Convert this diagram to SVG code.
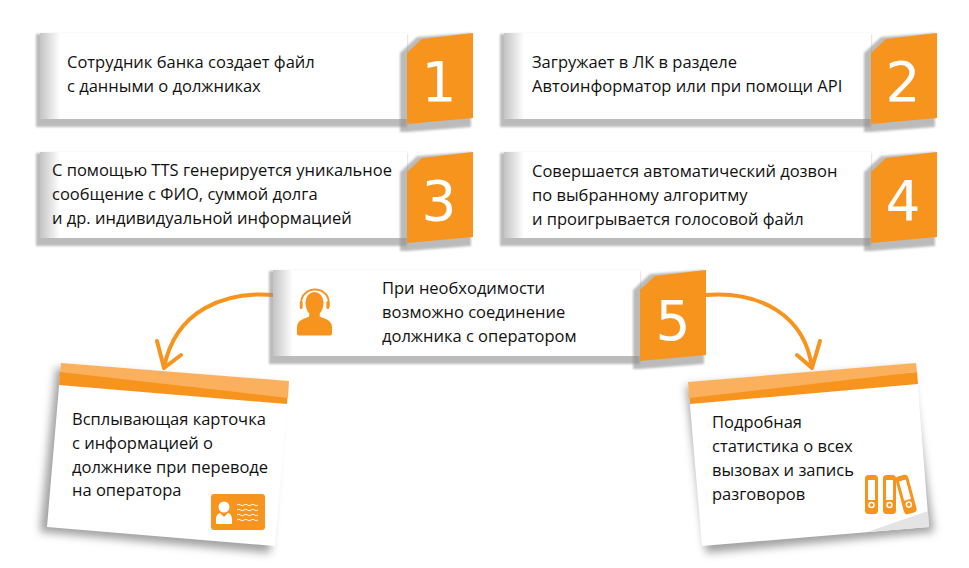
<svg xmlns="http://www.w3.org/2000/svg" width="969" height="568" viewBox="0 0 969 568">
<style>
.t{font-family:"Open Sans","Noto Sans",sans-serif;font-size:16.5px;fill:#111}
.n{font-family:"DejaVu Sans",sans-serif;font-size:55px;fill:#fff;text-anchor:middle}
.b{fill:#f7941d}
.l{fill:#fbb05e}
.sh{fill:#8f8f8f;opacity:.6;filter:url(#blur)}
.arrow{fill:none;stroke:#f7941d;stroke-width:4;stroke-linecap:round;stroke-linejoin:round}
.card{fill:url(#fade)}
.ic{fill:none;stroke:#fff;stroke-width:1}
.ring{fill:none;stroke:#fff;stroke-width:1.500}
</style>
<defs>
<filter id="blur" x="-20%" y="-20%" width="140%" height="140%"><feGaussianBlur stdDeviation="1"/></filter>
<filter id="blur2" x="-20%" y="-20%" width="140%" height="140%"><feGaussianBlur stdDeviation="4"/></filter>
<linearGradient id="fade" x1="0" x2="1" y1="0" y2="0"><stop offset="0" stop-color="#c4c4c4"/><stop offset="1" stop-color="#fff"/></linearGradient>
<g id="panel">
<path class="sh" d="M-3,1H368V94H-3Z"/>
<rect x="1" y="0" width="367" height="86" fill="#fff"/>
<rect class="card" x="1" y="0" width="20" height="86"/>
<path class="sh" d="M361,20L378,4L432,0V94L368,99H361Z"/>
<path class="b" d="M368,20L383,6L434,0V85L368,91Z"/>
</g>
</defs>
<rect width="969" height="568" fill="#fff"/>

<g id="connectors">
<path class="arrow" d="M274,295C225,291 175,310 164,368M157,341L164,368L181,355"/>
<path class="arrow" d="M706,295C760,291 805,315 812,368M797,355L812,368L820,341"/>
</g>

<g id="node-1"><use href="#panel" x="39" y="33"/>
<text class="t" x="67" y="68">Сотрудник банка создает файл</text>
<text class="t" x="67" y="92">с данными о должниках</text>
<text class="n" x="439" y="101">1</text></g>

<g id="node-2"><use href="#panel" x="503" y="33"/>
<text class="t" x="532" y="68">Загружает в ЛК в разделе</text>
<text class="t" x="532" y="92">Автоинформатор или при помощи API</text>
<text class="n" x="903" y="101">2</text></g>

<g id="node-3"><use href="#panel" x="39" y="152"/>
<text class="t" x="52" y="176">С помощью TTS генерируется уникальное</text>
<text class="t" x="52" y="200">сообщение с ФИО, суммой долга</text>
<text class="t" x="52" y="224">и др. индивидуальной информацией</text>
<text class="n" x="439" y="220">3</text></g>

<g id="node-4"><use href="#panel" x="503" y="152"/>
<text class="t" x="532" y="177">Совершается автоматический дозвон</text>
<text class="t" x="532" y="201">по выбранному алгоритму</text>
<text class="t" x="532" y="225">и проигрывается голосовой файл</text>
<text class="n" x="903" y="220">4</text></g>

<g id="node-5"><use href="#panel" x="272" y="270"/>
<text class="t" x="382" y="294">При необходимости</text>
<text class="t" x="382" y="318">возможно соединение</text>
<text class="t" x="382" y="342">должника с оператором</text>
<text class="n" x="673" y="340">5</text>
<g id="headset" transform="translate(314.500,0) scale(.95,1) translate(-314,-2)">
<path class="b" d="M314,294a9.500,10.500 0 0 1 9.500,10.500c0,5 -2,9 -4,11v3c4,2 13,3 13,11v6c0,1 -1,2 -2,2h-33c-1,0 -2,-1 -2,-2v-6c0,-8 9,-9 13,-11v-3c-2,-2 -4,-6 -4,-11a9.500,10.500 0 0 1 9.500,-10.500z"/>
<path d="M300,309v-5a14.500,12.500 0 0 1 29,0v5" fill="none" stroke="#f7941d" stroke-width="2"/>
<rect class="b" x="298.500" y="303" width="3" height="8" rx="1.500"/><rect class="b" x="326.500" y="303" width="3" height="8" rx="1.500"/>
</g></g>

<g id="note-left">
<path fill="#555" opacity=".55" filter="url(#blur2)" d="M56,368L280,386L270,553L40,532Z"/>
<path fill="#fff" d="M61,363L289,381L275,546L47,527Z"/>
<path class="b" d="M60,371L288,392L287,404L59,385Z"/>
<path class="l" d="M61,363L289,381L288,398L60,372Z"/>
<text class="t" x="72" y="425">Всплывающая карточка</text>
<text class="t" x="72" y="449">с информацией о</text>
<text class="t" x="72" y="473">должнике при переводе</text>
<text class="t" x="72" y="496">на оператора</text>
<g id="id-card">
<rect class="b" x="211" y="494" width="54" height="36" rx="3"/>
<circle cx="224" cy="507" r="5.500" fill="#fff"/>
<path d="M216,519c0,-4 3,-6 4,-6l4,4l4,-4c1,0 4,2 4,6v4c0,1 -1,1 -2,1h-12c-1,0 -2,0 -2,-1z" fill="#fff"/>
<path class="ic" d="M237,505q1.750,-1.500 3.500,0t3.500,0t3.500,0t3.500,0t3.500,0t3.500,0M237,510q1.750,-1.500 3.500,0t3.500,0t3.500,0t3.500,0t3.500,0t3.500,0M237,515q1.750,-1.500 3.500,0t3.500,0t3.500,0t3.500,0t3.500,0t3.500,0M237,520q1.750,-1.500 3.500,0t3.500,0t3.500,0t3.500,0t3.500,0t3.500,0"/>
</g></g>

<g id="note-right">
<path fill="#555" opacity=".55" filter="url(#blur2)" d="M686,386L910,368L934,532L706,553Z"/>
<path fill="#fff" d="M688,382L916,363L929,527L702,546Z"/>
<path fill="#e4e4e4" d="M928,511L867,532L929,527Z"/>
<path class="b" d="M689,392L917,372L918,384L690,404Z"/>
<path class="l" d="M688,382L916,363L917,372L689,398Z"/>
<text class="t" x="712" y="428">Подробная</text>
<text class="t" x="712" y="452">статистика о всех</text>
<text class="t" x="712" y="476">вызовах и запись</text>
<text class="t" x="712" y="500">разговоров</text>
<g id="binders">
<rect class="b" x="865" y="475" width="13" height="39" rx="3.500"/><rect x="868" y="480" width="7" height="20" fill="#fff"/><circle class="ring" cx="871.500" cy="505" r="2.500"/>
<rect class="b" x="883" y="475" width="13" height="39" rx="3.500"/><rect x="886" y="480" width="7" height="20" fill="#fff"/><circle class="ring" cx="889.500" cy="505" r="2.500"/>
<g transform="rotate(-15 906 494)"><rect class="b" x="899.500" y="475" width="13" height="39" rx="3.500"/><rect x="902.500" y="480" width="7" height="20" fill="#fff"/><circle class="ring" cx="906" cy="505" r="2.500"/></g>
</g></g>
</svg>
